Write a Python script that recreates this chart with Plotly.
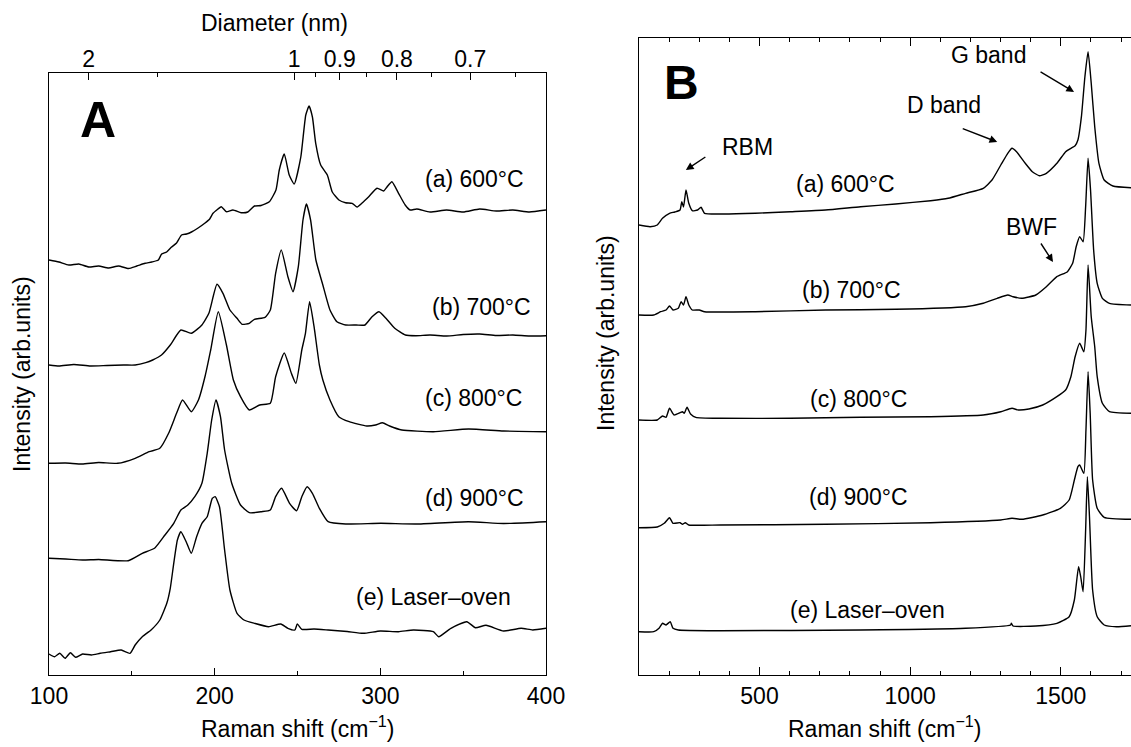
import plotly.graph_objects as go

# ---------------- Panel A : RBM region (Raman shift, cm-1) ----------------
a600_x = [100, 106, 112, 118, 124, 130, 136, 142, 148, 153, 158, 162, 166, 168, 171, 174, 177, 180, 183, 186,
          190, 194, 197, 199, 202, 204, 207, 211, 216, 220, 224, 228, 233, 237, 239, 242, 245, 248, 252, 255,
          257, 259, 261, 264, 268, 271, 275, 279, 283, 286, 289, 293, 298, 302, 304, 307, 311, 315, 318, 322,
          330, 340, 350, 360, 370, 380, 390, 400]
a600_y = [415, 413, 410, 411, 408, 409, 407, 409, 406.5, 409, 411.7, 413, 415, 421, 423, 428, 432, 440, 441, 443,
          447, 451.7, 456, 461.7, 466, 468.3, 463.3, 465, 462.3, 463, 469, 469.5, 473.3, 485, 505, 521, 500, 491, 518, 560,
          569, 558, 531.7, 510, 500, 483, 475, 472.3, 471.7, 468, 472, 478.3, 486.7, 484, 488, 493.3, 481.7, 470, 465, 466,
          463, 465, 463, 466, 464, 465, 463, 465]

a700_x = [100, 106, 115, 125, 135, 145, 152, 158.4, 162.6, 167.9, 173.2, 179.6, 185.9, 192.3, 196.5, 201.4, 205, 209.2,
          213.5, 216.6, 220.9, 224, 230.4, 233.6, 236.8, 240.2, 244.2, 247.3, 250.5, 253.3, 255.4, 257.9, 261.1, 265.3,
          269.6, 273.8, 279.1, 285.5, 290.7, 295, 299.2, 303.4, 308.7, 315.1, 321.5, 330, 340, 350, 360, 370, 380, 390, 400]
a700_y = [310, 309, 310.5, 309, 309.5, 310, 310, 312.3, 315, 320, 330, 345, 341.7, 350, 361.7, 390.7, 381.7, 365,
          356.7, 350.7, 351.7, 355.7, 357.7, 365, 401.7, 425, 398.3, 383.3, 408.3, 455, 471, 455, 415, 390,
          365, 353.3, 350, 350, 350, 358.3, 363.3, 356.7, 346.7, 340, 339.3, 340, 339, 340.5, 341, 339.5, 340, 339, 339.3]

a800_x = [100, 110, 120, 130, 141.5, 152, 160.5, 166.9, 172.2, 177, 180.6, 185.9, 190.2, 194.4, 197.6, 202.2, 207.1,
          211.3, 215.6, 220.9, 227.2, 233.6, 236.8, 242, 246.3, 249, 252.6, 254.8, 257.3, 260, 263.2, 265.3, 269.6,
          274.9, 281.2, 291.8, 297.1, 301.3, 305.6, 313, 332, 353.2, 374.4, 400]
a800_y = [211.7, 212, 211, 212.5, 211.7, 216.7, 223.3, 226.7, 241.7, 261.7, 275, 263.3, 275, 300, 325, 363.3, 330,
          295, 278.3, 265, 270, 271.7, 298.3, 322, 301.7, 291.7, 325, 341.7, 373.3, 348.3, 310, 295, 275,
          258.3, 253.3, 249, 250, 252.3, 249, 245, 243.3, 246, 244, 243.3]

a900_x = [100, 110, 120.3, 130, 147.8, 156.3, 163.7, 170, 175.3, 179.6, 183.8, 188, 192.3, 195.5, 198.2, 200.8, 203.5,
          206, 210.3, 215.6, 220.9, 228.3, 233.6, 236.8, 240.4, 245.2, 249.5, 252.6, 255.8, 259, 263.2, 268.5, 279.1,
          300.3, 321.5, 353.2, 374.4, 400]
a900_y = [116.7, 116, 115, 115.5, 114.3, 121.7, 126.7, 140, 151.7, 165, 170, 178.3, 191.7, 221.7, 255, 275, 258.3,
          225, 191.7, 170, 162.3, 163.3, 165, 178.3, 186.7, 171.7, 164.3, 178.3, 188.3, 181.7, 166.7, 153.3, 151,
          151.7, 151, 153.3, 151.5, 153.3]

alo_x = [100, 103.4, 106.5, 109.7, 112.9, 116, 120.3, 125.6, 130.9, 137.2, 143.6, 148.9, 152, 156.3, 161.6, 166.9, 171.1,
         173.2, 175.3, 177.5, 179.6, 182.8, 185.9, 189.1, 192.3, 195.5, 198.6, 200.3, 202.9, 206, 209.2, 213.5, 217.7,
         224, 232.5, 239.9, 244.2, 248.4, 249.9, 252.6, 260, 268.5, 280, 289.7, 300, 310.9, 320, 332, 335.2, 342.6, 352.2,
         357.4, 363.8, 374.4, 385, 392, 400]
alo_y = [21, 18.3, 21.7, 16.7, 22.3, 17.7, 21, 20, 21.7, 23.3, 25, 21.7, 30, 38.3, 45, 55, 71.7,
         86.7, 111.7, 135, 143.3, 133.3, 121.7, 138.3, 151.7, 158.3, 176.7, 178.3, 168.3, 125, 85, 61.7, 55,
         51.7, 48.3, 51, 46.7, 45, 51, 45.7, 46, 45, 43.5, 41.7, 44, 43.3, 45, 43.3, 38.3, 46.7, 53.3,
         47.3, 49.7, 44, 46.7, 45, 46.7]

# ---------------- Panel B : full spectra ----------------
b600_x = [100, 137, 160.6, 178, 201.3, 218.7, 236.2, 242, 247.8, 256, 265.3, 276.9, 294.4, 306, 317.6, 370, 486, 602.7,
          719, 835.4, 951.8, 1068, 1126, 1184, 1242.6, 1271.7, 1300.8, 1324, 1338, 1353, 1382, 1405.5, 1428.8, 1452,
          1487, 1516, 1533.5, 1547.5, 1556.8, 1568.4, 1580, 1590.5, 1601, 1612.6, 1626.6, 1644, 1673, 1733]
b600_y = [450, 448.3, 450, 456.7, 461.7, 463, 465, 473.3, 468, 485, 471.7, 464.3, 465, 467.7, 461.7, 461, 461.7, 463.3,
          465, 468.3, 471, 474.3, 476.7, 481.7, 486.7, 495, 510, 521.7, 526.7, 523.3, 511.7, 503.3, 499.3, 501.7,
          511.7, 523.3, 526.7, 529.3, 535, 558.3, 598.3, 623.3, 591.7, 548.3, 511.7, 495, 489, 487.3]

b700_x = [100, 148.9, 172.2, 189.7, 201.3, 212.9, 230.4, 239.7, 247.8, 256, 265.3, 276.9, 300.2, 317.6, 486, 719, 951.8,
          1184, 1242.6, 1289, 1324, 1341.6, 1370.6, 1417, 1452, 1487, 1522, 1539.3, 1551, 1562.6, 1574, 1582.4, 1590.5,
          1598.7, 1609, 1620.8, 1638, 1661.5, 1733]
b700_y = [360, 360, 363.3, 365, 369, 365, 366.7, 373.3, 370, 378.3, 370, 365, 365, 363.3, 363.3, 365, 365.7,
          368.3, 371.7, 376.7, 380, 378.3, 376.7, 380, 388.3, 398.3, 403.3, 411.7, 428.3, 438.3, 433.3, 468.3, 516.7,
          485, 425, 391.7, 376.7, 371.7, 370]

b800_x = [100, 160.6, 178, 189.7, 201.3, 216.4, 236.2, 244.3, 250.2, 259.5, 271.1, 288.6, 370, 602.7, 835.4, 1068,
          1242.6, 1300.8, 1338, 1359, 1394, 1440, 1487, 1516, 1533.5, 1547.5, 1562.6, 1576.5, 1583.5, 1590.5, 1601,
          1612.6, 1620.8, 1638, 1661.5, 1733]
b800_y = [255, 255, 259, 257.7, 266.7, 260, 262.3, 263.3, 261.7, 267.7, 261, 257.7, 256.7, 256.7, 257.7, 258.3,
          260, 263.3, 266.7, 265, 266, 270, 278.3, 285, 298.3, 318.3, 331.7, 323.3, 345, 410, 358.3,
          328.3, 298.3, 271.7, 263.3, 261.7]

b900_x = [100, 160.6, 183.8, 201.3, 212.9, 236.2, 244.3, 253.7, 265.3, 370, 719, 1068, 1300.8, 1338, 1371, 1440,
          1498.6, 1527.7, 1545, 1556.8, 1562.6, 1576.5, 1583.5, 1590.5, 1597.5, 1605.6, 1620.8, 1644, 1733]
b900_y = [147.3, 148, 151.7, 157.3, 151.7, 152.3, 150.7, 152.3, 150, 150, 150.7, 152.3, 155, 156.7, 155.7, 160,
          166.7, 175, 195, 208.3, 210, 201.7, 245, 303.3, 261.7, 195, 166.7, 157.7, 155.7]

blo_x = [100, 149, 166.4, 178, 189.7, 203.6, 212.9, 230.4, 370, 835, 1184, 1333.4, 1335.8, 1341.6, 1417, 1487, 1527.7,
         1545, 1559, 1566, 1574, 1582.4, 1588.2, 1595.2, 1605.6, 1620.8, 1644, 1684.7, 1733]
blo_y = [43.3, 43.3, 46.7, 51.7, 50, 53.3, 46.7, 45, 44.3, 45, 46.7, 50, 51.7, 49, 49, 51.7, 58.3,
         75, 108.3, 98.3, 83.3, 145, 198.3, 158.3, 85, 58.3, 50, 48.3, 49.3]

sample_labels = ["(a) 600°C", "(b) 700°C", "(c) 800°C", "(d) 900°C", "(e) Laser–oven"]
diam_labels = ["2", "1", "0.9", "0.8", "0.7"]
diam_major = [2.0, 1.0, 0.9, 0.8, 0.7]
diam_minor = [1.5, 0.95, 0.85, 0.75, 0.65]
DIAM_CONST = 248.0  # omega_RBM = 248 / d

FONT = "Liberation Sans, Arial, sans-serif"
LW = 1.4

fig = go.Figure()
for xs, ys in [(a600_x, a600_y), (a700_x, a700_y), (a800_x, a800_y), (a900_x, a900_y), (alo_x, alo_y)]:
    fig.add_trace(go.Scatter(x=xs, y=ys, mode="lines",
                             line=dict(color="black", width=LW, shape="spline", smoothing=0.5),
                             xaxis="x", yaxis="y", showlegend=False, hoverinfo="skip"))
for xs, ys in [(b600_x, b600_y), (b700_x, b700_y), (b800_x, b800_y), (b900_x, b900_y), (blo_x, blo_y)]:
    fig.add_trace(go.Scatter(x=xs, y=ys, mode="lines",
                             line=dict(color="black", width=LW, shape="spline", smoothing=0.5),
                             xaxis="x2", yaxis="y2", showlegend=False, hoverinfo="skip"))
# invisible trace to activate the top (diameter) axis
fig.add_trace(go.Scatter(x=[100, 400], y=[0, 0], mode="lines", line=dict(width=0), opacity=0,
                         xaxis="x3", yaxis="y", showlegend=False, hoverinfo="skip"))

H = 747
W = 1131
yA = [(H - 675) / H, (H - 73) / H]
yB = [(H - 675) / H, (H - 38) / H]
xA = [49 / W, 546 / W]
xB = [639 / W, 1.0]

tickfont = dict(family=FONT, size=23, color="black")
fig.update_layout(
    template="none",
    width=W, height=H, margin=dict(l=0, r=0, t=0, b=0, pad=0, autoexpand=False),
    paper_bgcolor="white", plot_bgcolor="white",
    font=dict(family=FONT, color="black"),
    xaxis=dict(domain=xA, range=[100, 400], anchor="y", showgrid=False, zeroline=False, automargin=False,
               showline=True, linecolor="black", linewidth=LW, mirror=True,
               tickmode="array", tickvals=[100, 200, 300, 400], ticks="inside", ticklen=7,
               tickwidth=LW, tickcolor="black", tickfont=tickfont,
               minor=dict(tickmode="array", tickvals=[150, 250, 350], ticks="inside", ticklen=4,
                          tickwidth=LW, tickcolor="black", showgrid=False)),
    yaxis=dict(domain=yA, range=[0, 602], anchor="x", showgrid=False, zeroline=False, automargin=False,
               showline=True, linecolor="black", linewidth=LW, mirror=True,
               ticks="", showticklabels=False),
    xaxis3=dict(overlaying="x", side="top", anchor="y", range=[100, 400], showgrid=False, zeroline=False,
                automargin=False,
                showline=False, tickmode="array", tickvals=[DIAM_CONST / d for d in diam_major],
                ticktext=diam_labels, ticks="inside", ticklen=7, tickwidth=LW, tickcolor="black",
                tickfont=tickfont,
                minor=dict(tickmode="array", tickvals=[DIAM_CONST / d for d in diam_minor], ticks="inside",
                           ticklen=4, tickwidth=LW, tickcolor="black", showgrid=False)),
    xaxis2=dict(domain=xB, range=[100, 1733], anchor="y2", showgrid=False, zeroline=False, automargin=False,
                showline=True, linecolor="black", linewidth=LW, mirror="ticks",
                tickmode="array", tickvals=[500, 1000, 1500], ticks="inside", ticklen=8,
                tickwidth=LW, tickcolor="black", tickfont=tickfont,
                minor=dict(dtick=100, tick0=0, ticks="inside", ticklen=4, tickwidth=LW,
                           tickcolor="black", showgrid=False)),
    yaxis2=dict(domain=yB, range=[0, 637], anchor="x2", showgrid=False, zeroline=False, automargin=False,
                showline=True, linecolor="black", linewidth=LW, mirror=False,
                ticks="", showticklabels=False),
)

ann = []
lab_font = dict(family=FONT, size=23, color="black")
# curve labels panel A
posA = [(357.1, 496), (361.3, 368), (356.5, 277), (357.1, 177), (332.3, 78)]
for t, (x, y) in zip(sample_labels, posA):
    ann.append(dict(x=x, y=y, xref="x", yref="y", text=t, showarrow=False, font=lab_font,
                    xanchor="center", yanchor="middle"))
posB = [(785.4, 491), (805.3, 385), (827, 276), (828.5, 178), (858, 65)]
for t, (x, y) in zip(sample_labels, posB):
    ann.append(dict(x=x, y=y, xref="x2", yref="y2", text=t, showarrow=False, font=lab_font,
                    xanchor="center", yanchor="middle"))
# panel letters
ann.append(dict(x=129.6, y=555, xref="x", yref="y", text="<b>A</b>", showarrow=False,
                font=dict(family=FONT, size=50, color="black"), xanchor="center", yanchor="middle"))
ann.append(dict(x=242, y=592, xref="x2", yref="y2", text="<b>B</b>", showarrow=False,
                font=dict(family=FONT, size=48, color="black"), xanchor="center", yanchor="middle"))
# band labels and arrows
for t, x, y in [("RBM", 461, 528), ("D band", 1113, 570), ("G band", 1259, 620), ("BWF", 1403, 448)]:
    ann.append(dict(x=x, y=y, xref="x2", yref="y2", text=t, showarrow=False, font=lab_font,
                    xanchor="center", yanchor="middle"))
for x, y, ax, ay in [(255.6, 505, 21, -14), (1289, 533, -36, -14), (1544, 583, -35, -21), (1474, 413, -13, -20)]:
    ann.append(dict(x=x, y=y, xref="x2", yref="y2", text="", showarrow=True, ax=ax, ay=ay,
                    arrowhead=2, arrowsize=1.1, arrowwidth=1.4, arrowcolor="black"))
# axis titles
title_font = dict(family=FONT, size=23, color="black")
ann.append(dict(x=297.5 / W, y=(H - 727) / H, xref="paper", yref="paper",
                text="Raman shift (cm<sup>−1</sup>)", showarrow=False, font=title_font,
                xanchor="center", yanchor="middle"))
ann.append(dict(x=885 / W, y=(H - 727) / H, xref="paper", yref="paper",
                text="Raman shift (cm<sup>−1</sup>)", showarrow=False, font=title_font,
                xanchor="center", yanchor="middle"))
ann.append(dict(x=22 / W, y=(H - 374) / H, xref="paper", yref="paper", text="Intensity (arb.units)",
                textangle=-90, showarrow=False, font=title_font, xanchor="center", yanchor="middle"))
ann.append(dict(x=606 / W, y=(H - 333) / H, xref="paper", yref="paper", text="Intensity (arb.units)",
                textangle=-90, showarrow=False, font=title_font, xanchor="center", yanchor="middle"))
ann.append(dict(x=274 / W, y=(H - 23) / H, xref="paper", yref="paper", text="Diameter (nm)",
                showarrow=False, font=title_font, xanchor="center", yanchor="middle"))
fig.update_layout(annotations=ann)

page_js = ("document.documentElement.style.margin='0';document.documentElement.style.padding='0';"
           "document.body.style.margin='0';document.body.style.padding='0';"
           "document.body.style.overflow='hidden';")
fig.write_html("out.html", post_script=page_js, config={"displayModeBar": False})
